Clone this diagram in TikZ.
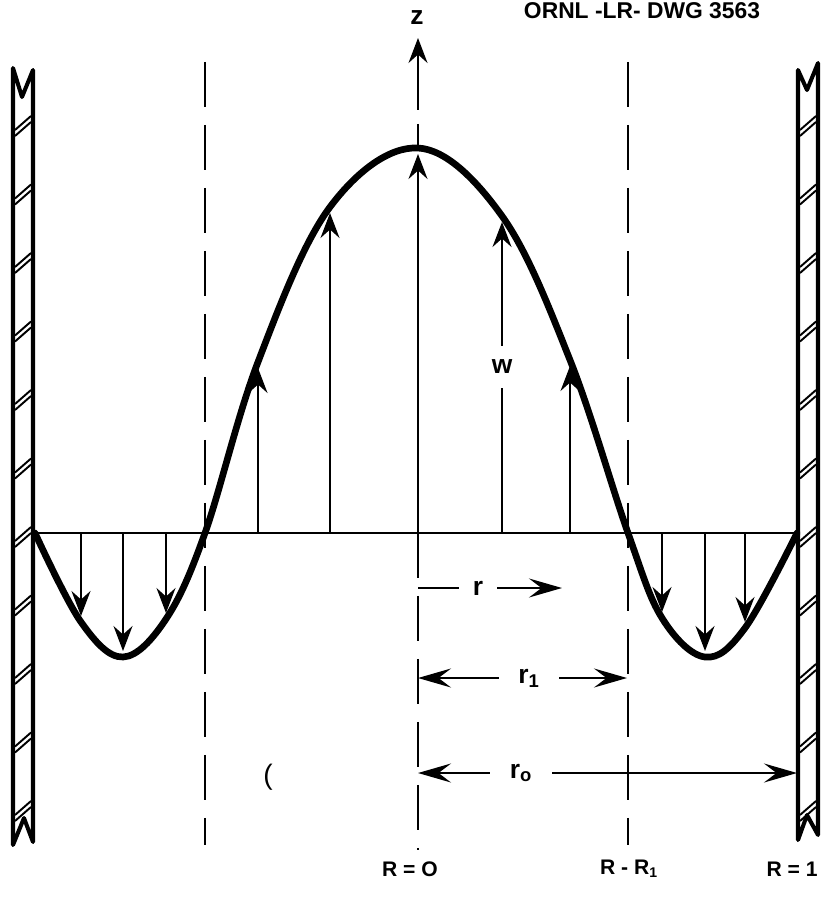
\documentclass[tikz,border=0pt]{standalone}
\usepackage{fontspec}
\setmainfont{Liberation Sans}
\usetikzlibrary{arrows.meta}

\tikzset{
    wall/.style={line width=2.3pt, line join=round},
    hatch/.style={line width=1.1pt},
    axis/.style={line width=1.4pt, dash pattern=on 0.9cm off 0.36cm},
    profile/.style={line width=3.8pt, line cap=round},
    flow/.style={line width=1.1pt, -{Stealth[length=0.5cm,width=0.38cm,inset=0.17cm]}},
    dimone/.style={line width=1.3pt, -{Stealth[length=0.66cm,width=0.38cm,inset=0.25cm]}},
    dimtwo/.style={line width=1.3pt, {Stealth[length=0.66cm,width=0.38cm,inset=0.25cm]}-{Stealth[length=0.66cm,width=0.38cm,inset=0.25cm]}},
    caplbl/.style={font=\fontsize{12}{14}\selectfont\bfseries, inner sep=1pt},
    lowlbl/.style={font=\fontsize{15}{17}\selectfont\bfseries, inner sep=1pt},
}

\begin{document}
\begin{tikzpicture}[x=0.02cm,y=-0.02cm]
    \useasboundingbox (0,0) rectangle (828,898);

    % Walls with break marks
    \draw[wall] (33,842) -- (24,818) -- (13,845) -- (13,68) -- (22,97) -- (33,70) -- cycle;
    \draw[wall] (798,70) -- (807,90) -- (818,63) -- (818,835) -- (807,815) -- (798,840) -- cycle;
    \foreach \i in {0,...,10} {
        \pgfmathsetmacro{\hy}{122+68.5*\i}
        \foreach \xa/\xb in {15/31, 800/816} {
            \draw[hatch] (\xa,\hy+8) -- (\xb,\hy-6);
            \draw[hatch] (\xa,\hy+14) -- (\xb,\hy);
        }
    }

    % Dashed lines R = R1 and axis
    \draw[axis] (205,62) -- (205,845);
    \draw[axis] (628,62) -- (628,845);
    \draw[axis] (418,533) -- (418,850);
    \draw[line width=1.4pt] (418,124) -- (418,146);
    \coordinate (zbot) at (418,110);
    \coordinate (ztop) at (418,38);
    \draw[flow, line width=1.2pt] (zbot) -- (ztop);
    \node[lowlbl] (z) at (417,18) {z};

    % Base line between the walls
    \coordinate (wl) at (33,533);
    \coordinate (wr) at (798,533);
    \draw[line width=1.5pt] (wl) -- (wr);

    % Velocity profile
    \draw[profile] plot[smooth, tension=0.6] coordinates {
        (35,533) (81,622) (123,657) (166,619) (205,533) (258,362) (330,207)
        (418,148) (502,216) (570,360) (628,533) (662,618) (705,657) (745,628) (797,533)};

    % Flow arrows up
    \foreach \x/\y in {258/368, 330/213, 418/154, 502/222, 570/366} {
        \coordinate (b\x) at (\x,533);
        \coordinate (t\x) at (\x,\y);
        \draw[flow] (b\x) -- (t\x);
    }
    \node[lowlbl, fill=white, inner ysep=8pt] (w) at (502,367) {w};

    % Flow arrows down
    \foreach \x/\y in {81/616, 123/651, 166/613, 662/612, 705/651, 745/622} {
        \coordinate (b\x) at (\x,533);
        \coordinate (t\x) at (\x,\y);
        \draw[flow] (b\x) -- (t\x);
    }

    % Radius markers
    \coordinate (rs) at (418,588);
    \coordinate (re) at (562,588);
    \draw[dimone] (rs) -- (re);
    \node[lowlbl, fill=white, inner xsep=8pt] (r) at (478,588) {r};

    \coordinate (ras) at (418,678);
    \coordinate (rae) at (627,678);
    \draw[dimtwo] (ras) -- (rae);
    \node[lowlbl, fill=white, inner xsep=11pt] (ra) at (529,678) {r\textsubscript{1}};

    \coordinate (rbs) at (418,773);
    \coordinate (rbe) at (797,773);
    \draw[dimtwo] (rbs) -- (rbe);
    \node[lowlbl, fill=white, inner xsep=11pt] (rb) at (521,773) {r\textsubscript{o}};

    \node[font=\fontsize{16}{18}\selectfont, inner sep=0pt] (mark) at (268,777) {(};

    % Bottom labels
    \node[caplbl] (R0) at (410,869) {R = O};
    \node[caplbl] (R1) at (629,869) {R - R\textsubscript{1}};
    \node[caplbl] (R2) at (792,869) {R = 1};

    % Drawing number
    \node[font=\fontsize{13}{15}\selectfont\bfseries, inner sep=0pt] (dwg) at (642,11) {ORNL -LR- DWG 3563};
\end{tikzpicture}
\end{document}
